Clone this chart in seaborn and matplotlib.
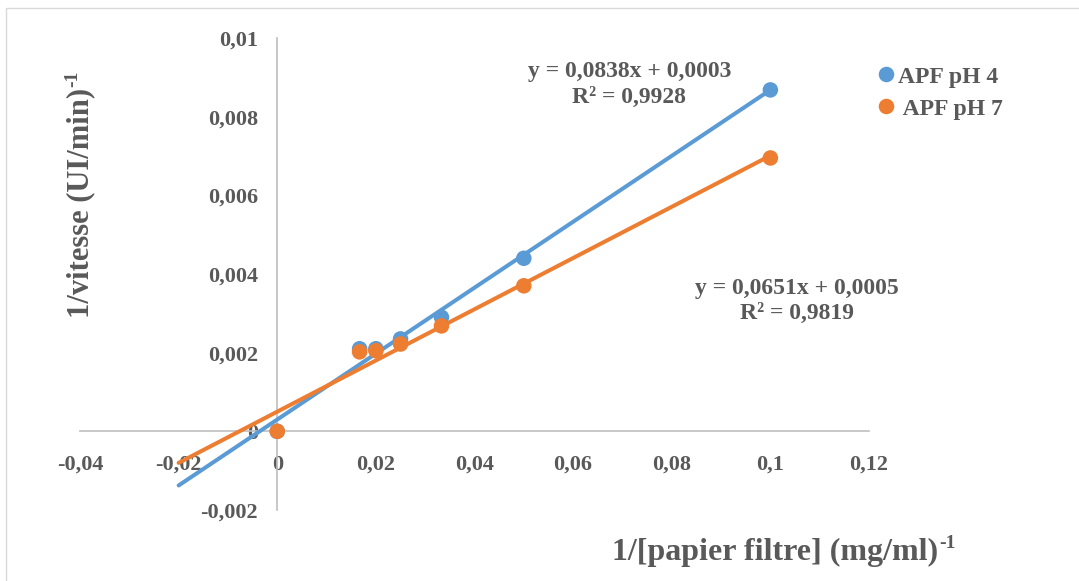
import matplotlib
matplotlib.use("Agg")
import matplotlib.pyplot as plt
from matplotlib.patches import Rectangle
import seaborn as sns
import pandas as pd

# Lineweaver-Burk data: 1/[substrate] vs 1/rate for two pH values
inv_substrate = [0.0, 0.0167, 0.02, 0.025, 0.0333, 0.05, 0.1]
inv_rate_ph4 = [0.0, 0.0021, 0.0021, 0.00235, 0.0029, 0.0044, 0.00868]
inv_rate_ph7 = [0.0, 0.00202, 0.00205, 0.00222, 0.00268, 0.0037, 0.00695]
series_names = ["APF pH 4", " APF pH 7"]

# linear trendlines (slope, intercept, R²)
fit_slopes = [0.0838, 0.0651]
fit_intercepts = [0.0003, 0.0005]
fit_r2 = ["0,9928", "0,9819"]
fit_x_range = [-0.02, 0.1]

x_ticks = [-0.04, -0.02, 0.0, 0.02, 0.04, 0.06, 0.08, 0.1, 0.12]
x_tick_labels = ["-0,04", "-0,02", "0", "0,02", "0,04", "0,06", "0,08", "0,1", "0,12"]
y_ticks = [-0.002, 0.0, 0.002, 0.004, 0.006, 0.008, 0.01]
y_tick_labels = ["-0,002", "0", "0,002", "0,004", "0,006", "0,008", "0,01"]

x_title = "1/[papier filtre] (mg/ml)"
y_title = "1/vitesse (UI/min)"
unit_power = "-1"

colors = ["#5B9BD5", "#ED7D31"]
text_color = "#595959"
axis_color = "#BFBFBF"

sns.set_theme(style="white")
plt.rcParams["font.family"] = ["Liberation Serif", "DejaVu Serif"]
plt.rcParams["font.weight"] = "bold"

W, H = 1079, 581
fig = plt.figure(figsize=(W / 100, H / 100), dpi=100)
ax = fig.add_axes([80 / W, 1 - 510 / H, 789 / W, 472 / H])

points = pd.DataFrame({
    "x": inv_substrate * 2,
    "y": inv_rate_ph4 + inv_rate_ph7,
    "serie": [series_names[0]] * len(inv_substrate) + [series_names[1]] * len(inv_substrate),
})

lines = []
for name, a, b in zip(series_names, fit_slopes, fit_intercepts):
    for xv in fit_x_range:
        lines.append({"x": xv, "y": a * xv + b, "serie": name})
lines = pd.DataFrame(lines)

sns.lineplot(data=lines, x="x", y="y", hue="serie", palette=colors,
             linewidth=2.9, legend=False, ax=ax, zorder=3)
sns.scatterplot(data=points, x="x", y="y", hue="serie", palette=colors,
                s=125, edgecolor="none", ax=ax, zorder=4)

ax.set_xlim(-0.04, 0.12)
ax.set_ylim(-0.002, 0.01)

# axes crossing at the origin, no outer frame
for side in ["top", "right"]:
    ax.spines[side].set_visible(False)
ax.spines["left"].set_position(("data", 0))
ax.spines["bottom"].set_position(("data", 0))
for side in ["left", "bottom"]:
    ax.spines[side].set_color(axis_color)
    ax.spines[side].set_linewidth(1.2)
    ax.spines[side].set_zorder(1)

ax.set_xticks(x_ticks)
ax.set_xticklabels(x_tick_labels)
ax.set_yticks(y_ticks)
ax.set_yticklabels(y_tick_labels)
ax.tick_params(axis="x", length=0, pad=17, labelsize=16, labelcolor=text_color)
ax.tick_params(axis="y", length=0, pad=14, labelsize=16, labelcolor=text_color)
for lab in ax.get_xticklabels() + ax.get_yticklabels():
    lab.set_fontweight("bold")
ax.set_xlabel("")
ax.set_ylabel("")

# axis titles with a raised "-1" exponent
renderer = fig.canvas.get_renderer()
inv = fig.transFigure.inverted()

xt = fig.text(612 / W, 1 - 560 / H, x_title, ha="left", va="baseline",
              fontsize=23, fontweight="bold", color=text_color)
bb = xt.get_window_extent(renderer)
fx, _ = inv.transform((bb.x1 + 1, 0))
fig.text(fx, 1 - 548 / H, unit_power, ha="left", va="baseline",
         fontsize=14, fontweight="bold", color=text_color)

yt = fig.text(88 / W, 1 - 318 / H, y_title, ha="left", va="baseline",
              rotation=90, rotation_mode="anchor", fontsize=22,
              fontweight="bold", color=text_color)
bb = yt.get_window_extent(renderer)
_, fy = inv.transform((0, bb.y1 + 1))
fig.text(77 / W, fy, unit_power, ha="left", va="baseline", rotation=90,
         rotation_mode="anchor", fontsize=14, fontweight="bold", color=text_color)

# trendline equations
eq_pos = [(0.0714, 0.00882), (0.1053, 0.00331)]
for (ex, ey), a, b, r2 in zip(eq_pos, fit_slopes, fit_intercepts, fit_r2):
    sa = f"{a:.4f}".replace(".", ",")
    sb = f"{b:.4f}".replace(".", ",")
    ax.text(ex, ey, f"y = {sa}x + {sb}\nR² = {r2}", ha="center", va="center",
            multialignment="center", fontsize=17, fontweight="bold",
            color=text_color, linespacing=1.28, zorder=5)

leg = ax.legend(loc="upper left", bbox_to_anchor=(879 / W, 1 - 66 / H),
                bbox_transform=fig.transFigure, frameon=False,
                fontsize=17, handlelength=0.6, handletextpad=0.2,
                labelspacing=0.45, borderaxespad=0, borderpad=0, markerscale=1.0)
for t in leg.get_texts():
    t.set_color(text_color)
    t.set_fontweight("bold")

# chart border
fig.patches.append(Rectangle((6 / W, -0.1), 1.2, 1.1 - 8 / H,
                             transform=fig.transFigure, fill=False,
                             edgecolor="#D9D9D9", linewidth=1.0))

fig.savefig("out.png", dpi=100, facecolor="white")
